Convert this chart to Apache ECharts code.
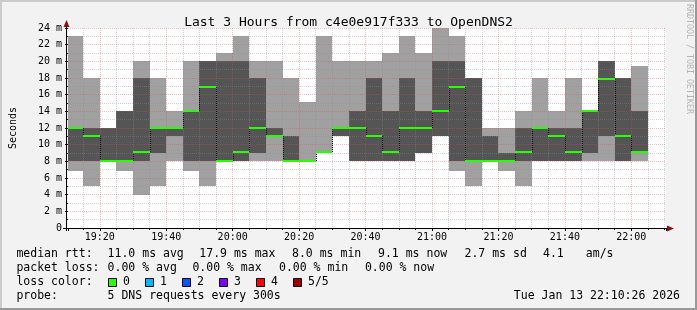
<!DOCTYPE html>
<html><head><meta charset="utf-8">
<script src="https://cdn.jsdelivr.net/npm/echarts@6/dist/echarts.min.js"></script>
<style>html,body{margin:0;padding:0;background:#f2f2f2}#c{width:697px;height:310px}</style>
</head><body><div id="c"></div>
<script>
// ---- data (5 pings per 5-minute step, values in ms) ----
const barTimes = ['19:10','19:15','19:20','19:25','19:30','19:35','19:40','19:45','19:50','19:55',
  '20:00','20:05','20:10','20:15','20:20','20:25','20:30','20:35','20:40','20:45',
  '20:50','20:55','21:00','21:05','21:10','21:15','21:20','21:25','21:30','21:35',
  '21:40','21:45','21:50','21:55','22:00'];
const pingMin  = [6.9,5,8,6.9,4,5,8,6.9,5,8, 8,8,8,8,8,9,11,8,8,8, 8,9,11,6.9,5,8,6.9,5,8,8, 8,8,8,8,8];
const pingLow  = [8,8,8,8,8,9,11,8,8,8, 8,9,11,8,8,9.1,11,8,8,8, 8,9,11,8,8,8,8,8,8,8, 8,9,11,8,9];
const medianRtt= [12,11,8,8,9.1,12,12,14,16.9,8, 9.1,12,11,8,8,9.1,12,12,11,9.1, 12,12,14,16.9,8,8,8,9.1,12,11, 9.1,14,17.9,11,9.1];
const pingHigh = [12,12,12,14,18,12,12,14,20,20, 20,18,12,11,8,9.1,12,14,18,14, 18,14,20,20,18,11,9,12,12,12, 12,14,20,18,14];
const pingMax  = [23,18,12,14,20,18,14,20,20,21, 23,20,20,18,15.1,23,20,20,20,21, 23,21,24,23,18,12,12,14,18,14, 18,14,20,18,19.4];
const yTickLabels = ['0','2 m','4 m','6 m','8 m','10 m','12 m','14 m','16 m','18 m','20 m','22 m','24 m'];
const stepMinutes = 5;
const startTime = '19:10:26', endTime = '22:10:26';

function toMin(s){const p=s.split(':').map(Number);return p[0]*60+p[1]+(p[2]||0)/60;}
function fmt(m){m=Math.round(m);const h=Math.floor(m/60),mm=m%60;return (h<10?'0':'')+h+':'+(mm<10?'0':'')+mm;}

const smokeData = barTimes.map((t,i)=>[toMin(t), toMin(t)+stepMinutes, pingMin[i], pingLow[i], medianRtt[i], pingHigh[i], pingMax[i], i>0?medianRtt[i-1]:medianRtt[i]]);

const MONO = 'DejaVu Sans Mono';
const LIGHT = '#a0a0a0', DARK = '#555555', GREEN = '#26ff00';
const MGRID = 'rgba(222,80,80,0.36)', GRID = 'rgba(143,143,143,0.38)';

function px(api, t, v){ return api.coord([t, v]); }

function renderSmoke(params, api){
  const x0 = Math.round(px(api, api.value(0), 0)[0]);
  const x1 = Math.round(px(api, api.value(1), 0)[0]);
  const y = k => Math.round(px(api, api.value(0), api.value(k))[1]);
  const y1=y(2), y2=y(3), y4=y(5), y5=y(6);
  return {type:'group', children:[
    {type:'rect', shape:{x:x0, y:y5, width:x1-x0, height:y1-y5}, style:{fill:LIGHT}},
    {type:'rect', shape:{x:x0, y:y4, width:x1-x0, height:y2-y4}, style:{fill:DARK}}
  ]};
}
function renderMedian(params, api){
  const x0 = Math.round(px(api, api.value(0), 0)[0]);
  const x1 = Math.round(px(api, api.value(1), 0)[0]);
  const ym = px(api, api.value(0), api.value(4))[1];
  const yp = px(api, api.value(0), api.value(7))[1];
  const ch = [];
  if (Math.abs(ym-yp) > 0.5) ch.push({type:'line', shape:{x1:x0+0.5, y1:Math.round(yp), x2:x0+0.5, y2:Math.round(ym)}, style:{stroke:'#000', lineWidth:1, lineDash:[1,1]}});
  ch.push({type:'line', shape:{x1:x0, y1:Math.round(ym), x2:x1, y2:Math.round(ym)}, style:{stroke:GREEN, lineWidth:2}});
  return {type:'group', children:ch};
}

const chart = echarts.init(document.getElementById('c'), null, {renderer:'canvas'});
const rows = [254.5, 268.5, 282.5, 296.5];
const legendTexts = [
  [16.4,0,'median rtt:'],[107.6,0,'11.0 ms avg'],[199.3,0,'17.9 ms max'],[292,0,'8.0 ms min'],[378,0,'9.1 ms now'],[464.5,0,'2.7 ms sd'],[543,0,'4.1'],[585.8,0,'am/s'],
  [16.4,1,'packet loss:'],[107.6,1,'0.00 % avg'],[192.4,1,'0.00 % max'],[279,1,'0.00 % min'],[364.9,1,'0.00 % now'],
  [16.4,2,'loss color:'],[123,2,'0'],[160,2,'1'],[197,2,'2'],[234,2,'3'],[271,2,'4'],[308,2,'5/5'],
  [16.4,3,'probe:'],[107.6,3,'5 DNS requests every 300s']
];
const lossBoxes = [[108,'#26ff00'],[145,'#00b8ff'],[182,'#0059ff'],[219,'#7e00ff'],[256,'#ff0000'],[293,'#a10000']];

const graphics = [
  {type:'rect', shape:{x:0,y:0,width:697,height:2}, style:{fill:'#cbcbcb'}, z:100},
  {type:'rect', shape:{x:0,y:0,width:2,height:310}, style:{fill:'#cbcbcb'}, z:100},
  {type:'rect', shape:{x:0,y:308,width:697,height:2}, style:{fill:'#999999'}, z:100},
  {type:'rect', shape:{x:695,y:0,width:2,height:310}, style:{fill:'#999999'}, z:100},
  {type:'line', shape:{x1:66.5,y1:231,x2:66.5,y2:25}, style:{stroke:'#000',lineWidth:1}, z:100},
  {type:'line', shape:{x1:63,y1:228.5,x2:668,y2:228.5}, style:{stroke:'#000',lineWidth:1}, z:100},
  {type:'polygon', shape:{points:[[66.5,20],[63.5,27],[69.5,27]]}, style:{fill:'#8b1010'}, z:101},
  {type:'polygon', shape:{points:[[674,228.5],[667,225.5],[667,231.5]]}, style:{fill:'#8b1010'}, z:101},
  {type:'text', x:685, y:4, rotation:-Math.PI/2, style:{text:'RRDTOOL / TOBI OETIKER', fontFamily:MONO, fontSize:8.3, fill:'#b4b4b4', textVerticalAlign:'bottom'}, z:100},
  {type:'text', x:680, y:rows[3], style:{text:'Tue Jan 13 22:10:26 2026', fontFamily:MONO, fontSize:11.5, fill:'#000', textAlign:'right', textVerticalAlign:'middle'}, z:100}
];
legendTexts.forEach(([x,r,t])=>graphics.push({type:'text', x:x, y:rows[r], style:{text:t, fontFamily:MONO, fontSize:11.5, fill:'#000', textVerticalAlign:'middle'}, z:100}));
lossBoxes.forEach(([x,c])=>graphics.push({type:'rect', shape:{x:x+0.5, y:278.5, width:8, height:8}, style:{fill:c, stroke:'#000', lineWidth:1}, z:100}));

chart.setOption({
  backgroundColor:'#f2f2f2',
  animation:false,
  title:{text:'Last 3 Hours from c4e0e917f333 to OpenDNS2', left:'center', top:11,
    textStyle:{fontFamily:MONO, fontSize:13, fontWeight:'normal', color:'#000'}},
  grid:{left:66, top:28, width:600, height:200, show:true, backgroundColor:'#ffffff', borderWidth:0},
  xAxis:{type:'value', min:toMin(startTime), max:toMin(endTime), splitNumber:9, minInterval:20, maxInterval:20, z:3,
    axisLine:{show:false},
    axisTick:{show:true, length:3, lineStyle:{color:'#000'}},
    minorTick:{show:true, splitNumber:4, length:2, lineStyle:{color:'#000'}},
    axisLabel:{formatter:v=>fmt(v), fontFamily:MONO, fontSize:10, color:'#000', margin:4, showMinLabel:false, showMaxLabel:false},
    splitLine:{show:true, showMinLine:false, showMaxLine:false, lineStyle:{color:MGRID, type:[1,1], width:1}},
    minorSplitLine:{show:true, lineStyle:{color:GRID, type:[1,1], width:1}}
  },
  yAxis:{type:'value', min:0, max:24, interval:2, z:3,
    name:'Seconds', nameLocation:'middle', nameGap:50,
    nameTextStyle:{fontFamily:MONO, fontSize:10, color:'#000'},
    axisLine:{show:false},
    axisTick:{show:true, length:3, lineStyle:{color:'#000'}},
    minorTick:{show:true, splitNumber:2, length:2, lineStyle:{color:'#000'}},
    axisLabel:{formatter:(v)=>yTickLabels[Math.round(v/2)], fontFamily:MONO, fontSize:10, color:'#000', margin:6},
    splitLine:{show:true, showMinLine:false, lineStyle:{color:MGRID, type:[1,1], width:1}},
    minorSplitLine:{show:true, lineStyle:{color:GRID, type:[1,1], width:1}}
  },
  graphic:graphics,
  series:[
    {type:'custom', name:'smoke', renderItem:renderSmoke, data:smokeData, clip:true, z:1, encode:{x:[0,1], y:[2,6]}},
    {type:'custom', name:'median', renderItem:renderMedian, data:smokeData, clip:true, z:5, encode:{x:[0,1], y:[4]}}
  ]
});
</script></body></html>
